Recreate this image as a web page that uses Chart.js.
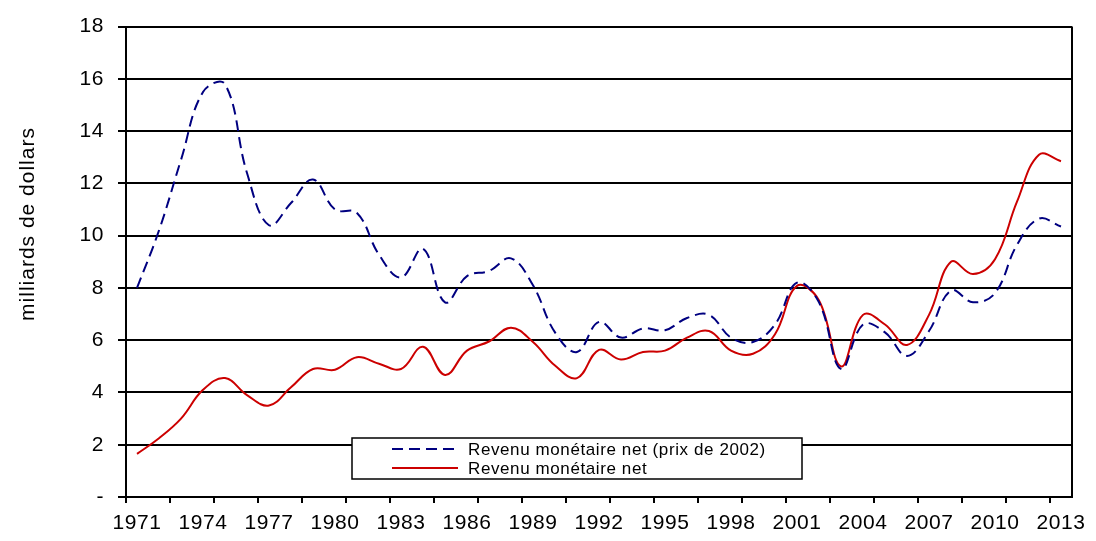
<!DOCTYPE html>
<html>
<head>
<meta charset="utf-8">
<script src="https://cdn.jsdelivr.net/npm/chart.js@4"></script>
<style>
  html, body { margin: 0; padding: 0; background: #fff; }
  #wrap { width: 1096px; height: 541px; }
</style>
</head>
<body>
<div id="wrap"><canvas id="chart"></canvas></div>
<script>
const years = ['1971', '1972', '1973', '1974', '1975', '1976', '1977', '1978', '1979', '1980',
  '1981', '1982', '1983', '1984', '1985', '1986', '1987', '1988', '1989', '1990',
  '1991', '1992', '1993', '1994', '1995', '1996', '1997', '1998', '1999', '2000',
  '2001', '2002', '2003', '2004', '2005', '2006', '2007', '2008', '2009', '2010',
  '2011', '2012', '2013'];

// Revenu monétaire net (prix de 2002)
const revenuReel = [8.0, 10.2, 12.9, 15.5, 15.8, 12.4, 10.4, 11.25, 12.15, 11.0,
  10.87, 9.27, 8.4, 9.5, 7.45, 8.45, 8.65, 9.13, 8.1, 6.3,
  5.55, 6.7, 6.1, 6.45, 6.38, 6.85, 6.97, 6.1, 5.93, 6.6,
  8.2, 7.45, 4.9, 6.6, 6.3, 5.4, 6.35, 7.9, 7.45, 7.8,
  9.65, 10.65, 10.35];

// Revenu monétaire net
const revenuNominal = [1.65, 2.25, 3.0, 4.1, 4.55, 3.9, 3.5, 4.2, 4.9, 4.87,
  5.35, 5.1, 4.9, 5.75, 4.67, 5.6, 5.95, 6.48, 5.93, 5.03,
  4.55, 5.63, 5.26, 5.55, 5.6, 6.1, 6.35, 5.6, 5.48, 6.23,
  8.08, 7.52, 5.0, 6.97, 6.6, 5.82, 6.97, 9.0, 8.53, 9.1,
  11.3, 13.1, 12.85];

const seriesNames = ['Revenu monétaire net (prix de 2002)', 'Revenu monétaire net'];
const yTitle = 'milliards de dollars';

const NAVY = '#000080';
const RED = '#cc0000';
const FONT = '"Liberation Sans", Arial, sans-serif';

// right border, y title and the boxed legend inside the plot
const extras = {
  id: 'extras',
  beforeDraw(chart) {
    chart.ctx.letterSpacing = '0.6px';
  },
  afterDraw(chart) {
    const ctx = chart.ctx;
    const a = chart.chartArea;
    ctx.save();
    ctx.strokeStyle = '#000';
    ctx.lineWidth = 2;
    ctx.beginPath();
    ctx.moveTo(a.right, a.top);
    ctx.lineTo(a.right, a.bottom);
    ctx.stroke();

    // axis title
    ctx.save();
    ctx.translate(28, 224);
    ctx.rotate(-Math.PI / 2);
    ctx.font = '21px ' + FONT;
    ctx.letterSpacing = '1px';
    ctx.fillStyle = '#000';
    ctx.textAlign = 'center';
    ctx.textBaseline = 'middle';
    ctx.fillText(yTitle, 0, 0);
    ctx.restore();

    // legend
    const lx = a.left + 226, ly = a.bottom - 59, lw = 450, lh = 41;
    ctx.fillStyle = '#fff';
    ctx.fillRect(lx, ly, lw, lh);
    ctx.lineWidth = 1.5;
    ctx.strokeStyle = '#000';
    ctx.strokeRect(lx, ly, lw, lh);
    const styles = [
      { color: NAVY, dash: [11, 6] },
      { color: RED, dash: [] }
    ];
    ctx.font = '17px ' + FONT;
    ctx.letterSpacing = '0.6px';
    ctx.textBaseline = 'middle';
    ctx.textAlign = 'left';
    seriesNames.forEach((name, i) => {
      const y = ly + 11 + i * 19;
      ctx.strokeStyle = styles[i].color;
      ctx.lineWidth = 2;
      ctx.setLineDash(styles[i].dash);
      ctx.beginPath();
      ctx.moveTo(lx + 40, y);
      ctx.lineTo(lx + 106, y);
      ctx.stroke();
      ctx.setLineDash([]);
      ctx.fillStyle = '#000';
      ctx.fillText(name, lx + 116, y + 1);
    });
    ctx.restore();
  }
};

new Chart(document.getElementById('chart'), {
  type: 'line',
  plugins: [extras],
  data: {
    labels: years,
    datasets: [
      {
        label: seriesNames[0],
        data: revenuReel,
        borderColor: NAVY,
        borderWidth: 2,
        borderDash: [11, 6],
        pointRadius: 0,
        tension: 0.4,
        fill: false
      },
      {
        label: seriesNames[1],
        data: revenuNominal,
        borderColor: RED,
        borderWidth: 2,
        pointRadius: 0,
        tension: 0.4,
        fill: false
      }
    ]
  },
  options: {
    responsive: true,
    maintainAspectRatio: false,
    animation: false,
    layout: { padding: { top: 13, right: 24, left: 0, bottom: 0 } },
    plugins: {
      legend: { display: false },
      tooltip: { enabled: false }
    },
    scales: {
      x: {
        offset: true,
        grid: {
          offset: true,
          drawOnChartArea: false,
          tickLength: 6,
          lineWidth: 2,
          color: ctx => (ctx.index !== undefined && ctx.index % 2 === 0) ? '#000' : 'rgba(0,0,0,0)'
        },
        border: { color: '#000', width: 2 },
        ticks: {
          autoSkip: false,
          maxRotation: 0,
          padding: 8,
          color: '#000',
          font: { family: FONT, size: 21 },
          callback: function (v, i) { return i % 3 === 0 ? this.getLabelForValue(v) : ''; }
        },
        afterFit: s => { s.height = 44; }
      },
      y: {
        min: 0,
        max: 18,
        grid: {
          color: '#000',
          lineWidth: 2,
          tickLength: 8
        },
        border: { color: '#000', width: 2 },
        ticks: {
          stepSize: 2,
          padding: 14,
          color: '#000',
          font: { family: FONT, size: 21 },
          callback: v => v === 0 ? '-' : v
        },
        afterFit: s => { s.width = 126; }
      }
    }
  }
});
</script>
</body>
</html>
